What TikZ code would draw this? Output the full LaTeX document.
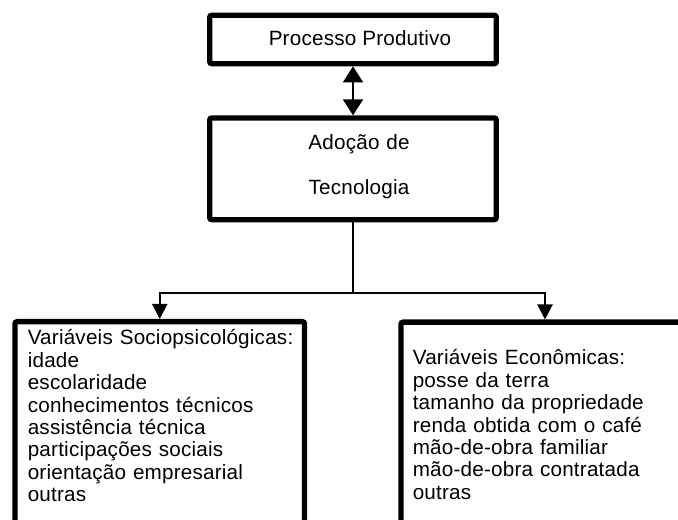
\documentclass[tikz,border=0pt]{standalone}
\usepackage{fontspec}
\setmainfont{Liberation Sans}[LetterSpace=1.0]
\usetikzlibrary{positioning,arrows.meta}

\begin{document}
\begin{tikzpicture}[
  bx/.style={draw=black, line width=3.8pt, rounded corners=1.5pt, inner sep=0pt},
  txt/.style={inner sep=0pt, font={\fontsize{14.7}{15.9}\selectfont}},
  lnk/.style={line width=1.4pt},
  dtip/.style={{Triangle[length=4.0mm,width=5.0mm]}-{Triangle[length=4.0mm,width=5.0mm]}},
  stip/.style={-{Triangle[length=3.75mm,width=3.75mm]}}
]
\useasboundingbox (0,0) rectangle (16.95,13.00);
% boxes
\node[bx, minimum width=7.165cm, minimum height=1.21cm] (pp) at (8.825,12.0125) {};
\node[bx, minimum width=7.165cm, minimum height=2.5425cm] (adt) at (8.825,8.779) {};
\node[bx, minimum width=7.2375cm, minimum height=6.0cm, anchor=north] (soc) at (3.99375,5.025) {};
\node[bx, minimum width=7.20cm, minimum height=5.025cm, anchor=north] (eco) at (13.625,5.0125) {};
% texts
\node[txt, anchor=base] (pptxt) at (9.00,11.85) {Processo Produtivo};
\node[txt, anchor=base, text width=5cm, align=center,
      font={\fontsize{14.7}{32}\selectfont}] (adttxt) at (8.975,9.25) {Adoção de\\Tecnologia};
\node[txt, anchor=base west, text width=7cm, align=left] (soctxt) at (0.6875,4.375)
  {Variáveis Sociopsicológicas:\\idade\\escolaridade\\conhecimentos técnicos\\assistência técnica\\participações sociais\\orientação empresarial\\outras};
\node[txt, anchor=base west, text width=7cm, align=left] (ecotxt) at (10.3125,3.875)
  {Variáveis Econômicas:\\posse da terra\\tamanho da propriedade\\renda obtida com o café\\mão-de-obra familiar\\mão-de-obra contratada\\outras};
% connectors
\coordinate (split) at (8.825,5.6675);
\draw[lnk, dtip] (pp.south) -- (adt.north);
\draw[lnk] (adt.south) -- (split);
\draw[lnk, stip] (split) -| (soc.north);
\draw[lnk, stip] (split) -| (eco.north);
\end{tikzpicture}
\end{document}
